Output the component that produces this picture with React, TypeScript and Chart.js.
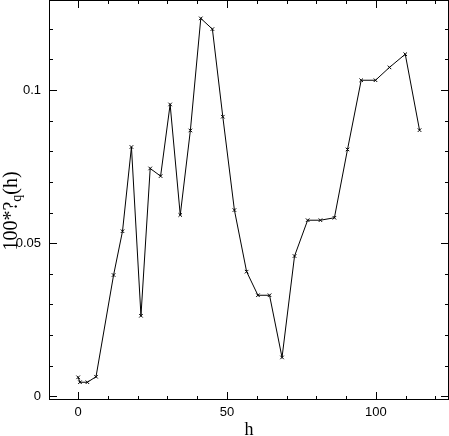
import React, { useEffect, useRef } from "react";
import { Chart, registerables } from "chart.js";

Chart.register(...registerables);

const hValues = [0, 0.6, 3.1, 6, 11.9, 14.9, 17.9, 21.1, 24.2, 27.7, 30.9, 34.3, 37.7, 41.2, 45.1, 48.6, 52.5, 56.6, 60.4, 64.3, 68.5, 72.7, 77.1, 81.4, 86.1, 90.5, 95.1, 99.9, 104.6, 109.9, 114.7];
const gammaValues = [0.0062, 0.0046, 0.0046, 0.0064, 0.0396, 0.0539, 0.0814, 0.0263, 0.0744, 0.0719, 0.0953, 0.0592, 0.0868, 0.1234, 0.1199, 0.0913, 0.0608, 0.0407, 0.033, 0.033, 0.0127, 0.0458, 0.0575, 0.0575, 0.0583, 0.0806, 0.1032, 0.1032, 0.1074, 0.1117, 0.0869];

const xMajorTicks = [0, 50, 100];
const xMinorTicks = [0, 10, 20, 30, 40, 50, 60, 70, 80, 90, 100, 110, 120];
const yMajorTicks = [0, 0.05, 0.1];
const yMinorTicks = [0, 0.01, 0.02, 0.03, 0.04, 0.05, 0.06, 0.07, 0.08, 0.09, 0.1, 0.11, 0.12];
const xTickLabels = ["0", "50", "100"];
const yTickLabels = ["0", "0.05", "0.1"];
const xTitle = "h";
const yTitleParts = ["100*?", "q", "(h)"];

const framePlugin = {
  id: "frame",
  afterDraw(chart: any) {
    const { ctx, chartArea } = chart;
    const xs = chart.scales.x;
    const ys = chart.scales.y;
    const L = chartArea.left, R = chartArea.right, T = chartArea.top, B = chartArea.bottom;
    ctx.save();
    ctx.strokeStyle = "#000";
    ctx.lineWidth = 1;
    ctx.strokeRect(L + 0.5, T + 0.5, R - L - 1, B - T - 1);
    ctx.beginPath();
    for (const v of xMinorTicks) {
      const len = xMajorTicks.includes(v) ? 8 : 4;
      const px = Math.round(xs.getPixelForValue(v)) + 0.5;
      ctx.moveTo(px, B);
      ctx.lineTo(px, B - len);
      ctx.moveTo(px, T);
      ctx.lineTo(px, T + len);
    }
    for (const v of yMinorTicks) {
      const len = yMajorTicks.some((m) => Math.abs(m - v) < 1e-9) ? 8 : 4;
      const py = Math.round(ys.getPixelForValue(v)) + 0.5;
      ctx.moveTo(L, py);
      ctx.lineTo(L + len, py);
      ctx.moveTo(R, py);
      ctx.lineTo(R - len, py);
    }
    ctx.stroke();

    ctx.fillStyle = "#000";
    ctx.font = "13px 'Liberation Sans', sans-serif";
    ctx.textAlign = "center";
    ctx.textBaseline = "top";
    xMajorTicks.forEach((v, i) => {
      ctx.fillText(xTickLabels[i], xs.getPixelForValue(v), B + 6);
    });
    ctx.textAlign = "right";
    ctx.textBaseline = "middle";
    yMajorTicks.forEach((v, i) => {
      ctx.fillText(yTickLabels[i], L - 8, ys.getPixelForValue(v));
    });

    ctx.font = "18px 'Liberation Serif', serif";
    ctx.textAlign = "center";
    ctx.textBaseline = "alphabetic";
    ctx.fillText(xTitle, (L + R) / 2, 435);

    ctx.translate(17, 211);
    ctx.rotate(-Math.PI / 2);
    ctx.textAlign = "left";
    const big = "20px 'Liberation Serif', serif";
    const small = "14px 'Liberation Serif', serif";
    ctx.font = big;
    const w0 = ctx.measureText(yTitleParts[0]).width;
    ctx.font = small;
    const w1 = ctx.measureText(yTitleParts[1]).width;
    ctx.font = big;
    const w2 = ctx.measureText(yTitleParts[2]).width;
    let x = -(w0 + w1 + w2) / 2;
    ctx.font = big;
    ctx.fillText(yTitleParts[0], x, 0);
    x += w0;
    ctx.font = small;
    ctx.fillText(yTitleParts[1], x, 4);
    x += w1;
    ctx.font = big;
    ctx.fillText(yTitleParts[2], x, 0);
    ctx.restore();
  },
};

export default function App() {
  const ref = useRef<HTMLCanvasElement>(null);
  useEffect(() => {
    if (!ref.current) return;
    const chart = new Chart(ref.current, {
      type: "line",
      data: {
        datasets: [
          {
            data: hValues.map((h, i) => ({ x: h, y: gammaValues[i] })),
            borderColor: "#000",
            backgroundColor: "#000",
            borderWidth: 1,
            pointStyle: "crossRot",
            pointRadius: 2.5,
            pointBorderWidth: 1,
            pointBorderColor: "#000",
            tension: 0,
            fill: false,
          },
        ],
      },
      options: {
        animation: false,
        responsive: false,
        events: [],
        layout: { autoPadding: false, padding: { left: 49, top: 0, right: 0, bottom: 36 } },
        plugins: { legend: { display: false }, tooltip: { enabled: false } },
        scales: {
          x: { type: "linear", min: -9.8, max: 124.6, display: false },
          y: { type: "linear", min: -0.0012, max: 0.1294, display: false },
        },
      },
      plugins: [framePlugin],
    });
    return () => chart.destroy();
  }, []);
  return (
    <div style={{ position: "fixed", left: 0, top: 0, width: 449, height: 436, background: "#fff" }}>
      <canvas ref={ref} width={449} height={436} style={{ display: "block" }} />
    </div>
  );
}
